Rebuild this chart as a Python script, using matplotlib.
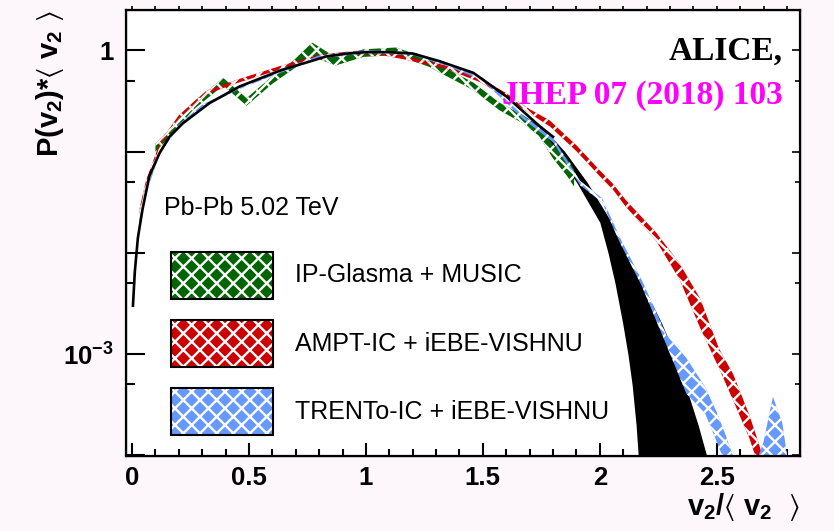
import numpy as np
import matplotlib
matplotlib.use('Agg')
import matplotlib.pyplot as plt
from matplotlib.patches import Rectangle
from matplotlib.ticker import LogLocator, MultipleLocator, FuncFormatter, NullFormatter, NullLocator

plt.rcParams['font.family'] = ['Liberation Sans', 'DejaVu Sans']
plt.rcParams['mathtext.fontset'] = 'custom'
plt.rcParams['mathtext.rm'] = 'Liberation Sans'
plt.rcParams['mathtext.default'] = 'regular'
plt.rcParams['hatch.linewidth'] = 1.7
plt.rcParams['hatch.color'] = 'white'

# ALICE fit (black line) and its uncertainty band at large v2
fit_x = [0.004, 0.012, 0.025, 0.045, 0.074, 0.117, 0.16, 0.217, 0.33, 0.46, 0.64,
         0.83, 0.92, 1.0, 1.1, 1.2, 1.316, 1.459, 1.601, 1.744, 1.80]
fit_y = [0.003, 0.0065, 0.014, 0.027, 0.057, 0.096, 0.14, 0.19, 0.30, 0.44, 0.64,
         0.87, 0.93, 0.96, 0.96, 0.93, 0.78, 0.60, 0.35, 0.177, 0.14]

band_y = [0.18, 0.1, 0.05, 0.02, 0.01, 0.005, 0.002, 0.001, 5e-4, 2e-4, 1e-4, 8e-5]
band_left = [1.74, 1.81, 1.90, 2.0, 2.035, 2.065, 2.098, 2.12, 2.138, 2.155, 2.164, 2.167]
band_right = [1.75, 1.85, 1.945, 2.05, 2.11, 2.18, 2.265, 2.32, 2.365, 2.42, 2.456, 2.465]

# model bands: centre value and band factor (hi = y*f, lo = y/f)
glasma_x = [0.10, 0.16, 0.26, 0.39, 0.49, 0.60, 0.69, 0.77, 0.87, 0.99, 1.13, 1.27,
            1.32, 1.46, 1.57, 1.67, 1.74, 1.80, 1.86, 1.89]
glasma_y = [0.11, 0.15, 0.28, 0.49, 0.31, 0.51, 0.72, 1.02, 0.78, 0.94, 0.98, 0.75,
            0.65, 0.44, 0.28, 0.21, 0.16, 0.10, 0.07, 0.055]
glasma_f = [1.1, 1.09, 1.09, 1.09, 1.09, 1.09, 1.1, 1.17, 1.1, 1.09, 1.09, 1.09,
            1.09, 1.09, 1.09, 1.1, 1.12, 1.17, 1.22, 1.22]

ampt_x = [0.03, 0.06, 0.12, 0.20, 0.316, 0.444, 0.63, 0.80, 0.95, 1.05, 1.16, 1.345,
          1.487, 1.60, 1.70, 1.786, 1.90, 2.0, 2.056, 2.11, 2.24, 2.34, 2.43, 2.51,
          2.57, 2.64, 2.68, 2.70]
ampt_y = [0.025, 0.05, 0.12, 0.22, 0.38, 0.49, 0.67, 0.87, 0.95, 0.95, 0.85, 0.68,
          0.51, 0.36, 0.25, 0.19, 0.108, 0.061, 0.045, 0.031, 0.0145, 0.0066, 0.0025, 9e-4,
          4.7e-4, 1.9e-4, 1.0e-4, 7e-5]
ampt_f = [1.04, 1.04, 1.04, 1.04, 1.04, 1.04, 1.04, 1.04, 1.04, 1.04, 1.04, 1.04,
          1.05, 1.05, 1.05, 1.07, 1.07, 1.07, 1.07, 1.08, 1.1, 1.2, 1.4, 1.25,
          1.35, 1.3, 1.3, 1.3]

trento_x = [0.03, 0.06, 0.12, 0.20, 0.30, 0.45, 0.60, 0.80, 1.0, 1.2, 1.35, 1.5,
            1.67, 1.80, 1.915, 2.01, 2.085, 2.18, 2.285, 2.37, 2.45, 2.50, 2.54, 2.58,
            2.64, 2.70, 2.74, 2.78, 2.80]
trento_y = [0.02, 0.04, 0.10, 0.18, 0.28, 0.42, 0.58, 0.86, 0.97, 0.93, 0.72, 0.52,
            0.22, 0.13, 0.049, 0.033, 0.0135, 0.005, 0.00137, 6.1e-4, 3.5e-4, 1.9e-4, 1.1e-4, 6e-5,
            4e-5, 8e-5, 1.8e-4, 1.1e-4, 6e-5]
trento_f = [1.035, 1.035, 1.035, 1.035, 1.035, 1.035, 1.035, 1.035, 1.035, 1.035, 1.035, 1.035,
            1.04, 1.05, 1.05, 1.05, 1.06, 1.07, 1.12, 1.5, 1.35, 1.4, 1.4, 1.4,
            1.4, 1.7, 2.1, 1.9, 1.7]

models = [
    ('IP-Glasma + MUSIC', '#006400', glasma_x, glasma_y, glasma_f),
    ('AMPT-IC + iEBE-VISHNU', '#cc0000', ampt_x, ampt_y, ampt_f),
    ('TRENTo-IC + iEBE-VISHNU', '#6699ff', trento_x, trento_y, trento_f),
]

fig = plt.figure(figsize=(8.34, 5.31), dpi=100)
fig.patch.set_facecolor('#fdf7fc')
ax = fig.add_axes([0.151, 0.141, 0.808, 0.840])
ax.set_facecolor('white')

ax.fill_betweenx(band_y, band_left, band_right, color='black', lw=0, zorder=1)

for name, col, x, y, f in models:
    y = np.array(y)
    f = np.array(f)
    ax.fill_between(x, y / f, y * f, facecolor=col, edgecolor='white',
                    hatch='xx', linewidth=0, zorder=2)

ax.plot(fit_x, fit_y, color='black', lw=1.9, zorder=3)

ax.set_yscale('log')
ax.set_xlim(-0.026, 2.855)
ax.set_ylim(9.8e-5, 2.5)

ax.xaxis.set_major_locator(MultipleLocator(0.5))
ax.xaxis.set_minor_locator(MultipleLocator(0.1))
ax.xaxis.set_major_formatter(FuncFormatter(lambda v, p: '%g' % v))
ax.yaxis.set_major_locator(LogLocator(base=10, numticks=20))
ax.yaxis.set_minor_locator(LogLocator(base=10, subs=(5,), numticks=20))
ax.yaxis.set_minor_formatter(NullFormatter())


def ylab(v, p):
    if abs(v - 1) < 1e-9:
        return '1'
    if abs(v - 1e-3) < 1e-12:
        return r'$10^{-3}$'
    return ''


ax.yaxis.set_major_formatter(FuncFormatter(ylab))

ax.tick_params(axis='both', which='both', direction='in', width=1.5, labelsize=18.5)
ax.tick_params(axis='x', which='major', length=9.5, pad=7)
ax.tick_params(axis='x', which='minor', length=5)
ax.tick_params(axis='y', which='major', length=13.7, pad=9)
ax.tick_params(axis='y', which='minor', length=6.5)
for lab in ax.get_xticklabels() + ax.get_yticklabels():
    lab.set_fontweight('bold')
for s in ax.spines.values():
    s.set_linewidth(1.6)

# ticks on the opposite sides
ax_top = ax.twiny()
ax_top.set_xlim(ax.get_xlim())
ax_top.xaxis.set_major_locator(MultipleLocator(0.1))
ax_top.xaxis.set_minor_locator(NullLocator())
ax_top.tick_params(axis='x', direction='out', length=3, width=1.2, labeltop=False)

ax_right = ax.twinx()
ax_right.set_yscale('log')
ax_right.set_ylim(ax.get_ylim())
ax_right.yaxis.set_major_locator(LogLocator(base=10, numticks=20))
ax_right.yaxis.set_minor_locator(LogLocator(base=10, subs=(5,), numticks=20))
ax_right.tick_params(axis='y', which='both', direction='in', width=1.2, labelright=False)
ax_right.tick_params(axis='y', which='major', length=5.5)
ax_right.tick_params(axis='y', which='minor', length=3.8)

ax.text(-0.113, 1.0, r'P(v$_{2}$)*$\langle$ v$_{2}$ $\rangle$', transform=ax.transAxes,
        rotation=90, ha='center', va='top', fontsize=21, fontweight='bold')
ax.text(1.0, -0.078, r'v$_{2}$/$\langle$ v$_{2}$  $\rangle$', transform=ax.transAxes,
        ha='right', va='top', fontsize=21, fontweight='bold')

ax.text(0.975, 0.888, 'ALICE,', transform=ax.transAxes, ha='right', va='baseline',
        fontsize=24, fontweight='bold', family='Liberation Serif', zorder=5)
ax.text(0.975, 0.791, 'JHEP 07 (2018) 103', transform=ax.transAxes, ha='right',
        va='baseline', fontsize=24, fontweight='bold', family='Liberation Serif',
        color='#ff00ff', zorder=5)
ax.text(0.0564, 0.540, 'Pb-Pb 5.02 TeV', transform=ax.transAxes, ha='left',
        va='baseline', fontsize=18)

# legend drawn by hand, ROOT style
box_bottoms = [0.352, 0.199, 0.047]
for (name, col, x, y, f), yb in zip(models, box_bottoms):
    ax.add_patch(Rectangle((0.0668, yb), 0.151, 0.106, transform=ax.transAxes,
                           facecolor=col, edgecolor='white', hatch='xx', lw=0, zorder=6))
    ax.add_patch(Rectangle((0.0668, yb), 0.151, 0.106, transform=ax.transAxes,
                           fill=False, edgecolor='black', lw=1.5, zorder=7))
    ax.text(0.251, yb + 0.053, name, transform=ax.transAxes, ha='left', va='center',
            fontsize=18, zorder=7)

fig.savefig('out.png', dpi=100, facecolor=fig.get_facecolor())
